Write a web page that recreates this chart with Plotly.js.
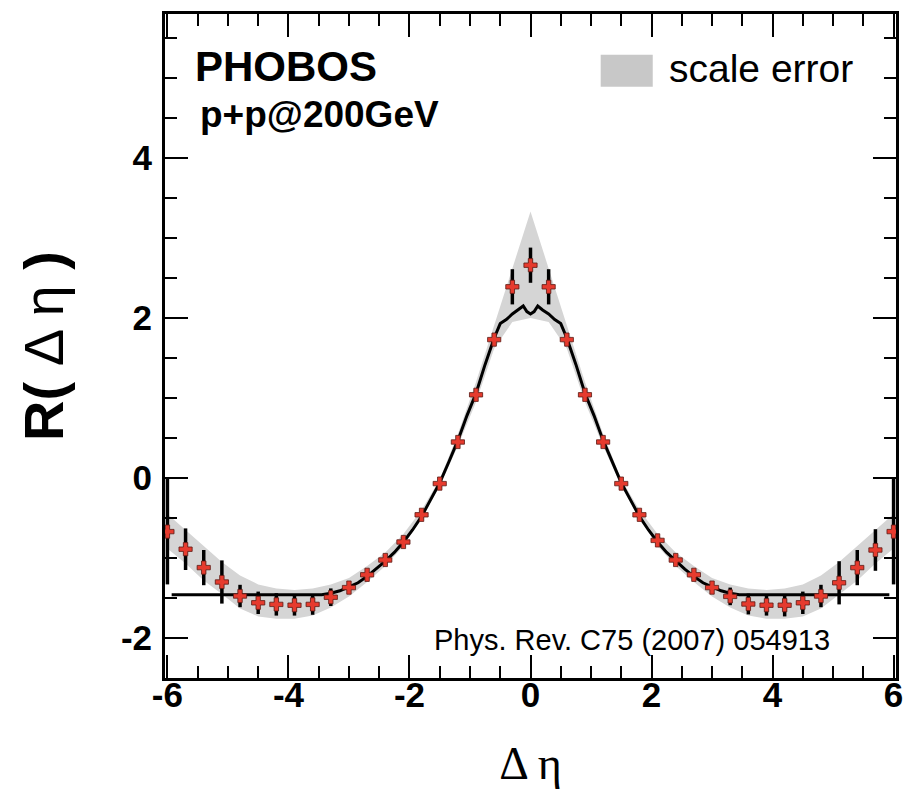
<!DOCTYPE html>
<html>
<head>
<meta charset="utf-8">
<script src="https://cdn.plot.ly/plotly-3.0.1.min.js"></script>
<style>html,body{margin:0;padding:0;background:#fff;}#chart{width:911px;height:801px;}</style>
</head>
<body>
<div id="chart"></div>
<script>
// Data points: Delta eta bin centres and R values
const dEta = [-6.0,-5.7,-5.4,-5.1,-4.8,-4.5,-4.2,-3.9,-3.6,-3.3,-3.0,-2.7,-2.4,-2.1,-1.8,-1.5,-1.2,-0.9,-0.6,-0.3,0.0,
              0.3,0.6,0.9,1.2,1.5,1.8,2.1,2.4,2.7,3.0,3.3,3.6,3.9,4.2,4.5,4.8,5.1,5.4,5.7,6.0];
const rVal = [-0.67,-0.89,-1.12,-1.30,-1.475,-1.56,-1.58,-1.59,-1.58,-1.49,-1.37,-1.21,-1.025,-0.80,-0.46,-0.07,0.45,1.04,1.73,2.39,2.66,
              2.39,1.73,1.04,0.45,-0.07,-0.46,-0.78,-1.025,-1.21,-1.37,-1.48,-1.575,-1.59,-1.59,-1.56,-1.475,-1.31,-1.12,-0.90,-0.67];
const rErr = [0.66,0.26,0.22,0.27,0.14,0.14,0.14,0.13,0.13,0.11,0.08,0.06,0.06,0.06,0.06,0.06,0.06,0.06,0.08,0.22,0.22,
              0.22,0.08,0.06,0.06,0.06,0.06,0.06,0.06,0.06,0.08,0.11,0.13,0.13,0.14,0.14,0.14,0.27,0.22,0.26,0.66];
const binHalf = [0.1,0.1,0.1,0.1,0.1,0.1,0.1,0.1,0.1,0.1,0.1,0.1,0.1,0.1,0.1,0.1,0.1,0.1,0.1,0.1,0.1,
                 0.1,0.1,0.1,0.1,0.1,0.1,0.1,0.1,0.1,0.1,0.1,0.1,0.1,0.1,0.1,0.1,0.1,0.1,0.1,0.1];
// Scale error band (upper / lower edge at each bin centre)
const bandHi = [-0.45,-0.65,-0.85,-1.05,-1.22,-1.33,-1.38,-1.40,-1.38,-1.33,-1.25,-1.10,-0.93,-0.70,-0.40,-0.02,0.55,1.20,1.91,2.62,3.33,
                2.62,1.91,1.20,0.55,-0.02,-0.40,-0.70,-0.93,-1.10,-1.25,-1.33,-1.38,-1.40,-1.38,-1.33,-1.22,-1.05,-0.85,-0.65,-0.45];
const bandLo = [-0.88,-1.07,-1.28,-1.45,-1.63,-1.73,-1.76,-1.76,-1.72,-1.62,-1.48,-1.30,-1.10,-0.85,-0.50,-0.10,0.40,0.95,1.62,1.95,2.00,
                1.95,1.62,0.95,0.40,-0.10,-0.50,-0.85,-1.10,-1.30,-1.48,-1.62,-1.72,-1.76,-1.76,-1.73,-1.63,-1.45,-1.28,-1.07,-0.88];
// Model curve (black line)
const curveX = [-5.93,-3.45,-3.3,-3.15,-3.0,-2.85,-2.7,-2.55,-2.4,-2.25,-2.1,-1.95,-1.8,-1.65,-1.5,-1.35,-1.2,-1.05,-0.9,-0.75,-0.6,-0.5,-0.4,-0.3,-0.2,-0.12,-0.06,0.0,
                0.06,0.12,0.2,0.3,0.4,0.5,0.6,0.75,0.9,1.05,1.2,1.35,1.5,1.65,1.8,1.95,2.1,2.25,2.4,2.55,2.7,2.85,3.0,3.15,3.3,3.45,5.93];
const curveY = [-1.46,-1.46,-1.44,-1.41,-1.36,-1.31,-1.23,-1.14,-1.04,-0.93,-0.80,-0.65,-0.48,-0.27,-0.06,0.20,0.47,0.78,1.06,1.42,1.75,1.93,1.98,2.05,2.10,2.15,2.08,2.05,
                2.08,2.15,2.10,2.05,1.98,1.93,1.75,1.42,1.06,0.78,0.47,0.20,-0.06,-0.27,-0.48,-0.65,-0.80,-0.93,-1.04,-1.14,-1.23,-1.31,-1.36,-1.41,-1.44,-1.46,-1.46];
const xTickVals = [-6,-4,-2,0,2,4,6];
const xTickText = ["-6","-4","-2","0","2","4","6"];
const yTickVals = [-2,0,2,4];
const yTickText = ["-2","0","2","4"];

const bandX = dEta.concat(dEta.slice().reverse());
const bandY = bandHi.concat(bandLo.slice().reverse());

const traces = [
  {x: bandX, y: bandY, type: 'scatter', mode: 'lines', fill: 'toself',
   fillcolor: 'rgb(213,213,213)', line: {width: 0}, hoverinfo: 'skip', showlegend: false},
  {x: curveX, y: curveY, type: 'scatter', mode: 'lines', line: {color: '#000', width: 3}, showlegend: false},
  {x: dEta, y: rVal, type: 'scatter', mode: 'markers',
   error_y: {type: 'data', array: rErr, visible: true, color: '#000', thickness: 3.5, width: 0},
   error_x: {type: 'data', array: binHalf, visible: true, color: '#222', thickness: 2, width: 0},
   marker: {symbol: 'cross', size: 11, color: '#e63b2e', line: {color: '#5a1a14', width: 0.8}},
   showlegend: false}
];

const axisCommon = {
  showgrid: false, zeroline: false, showline: true, linecolor: '#000', linewidth: 3,
  mirror: 'ticks', ticks: 'inside', ticklen: 23, tickwidth: 2, tickcolor: '#000',
  tickfont: {family: 'Liberation Sans, Arial, sans-serif', size: 35, color: '#000', weight: 'bold'},
  minor: {ticks: 'inside', dtick: 0.5, ticklen: 12, tickwidth: 2, tickcolor: '#000'}
};

const layout = {
  width: 911, height: 801,
  margin: {l: 165, r: 15, t: 14, b: 123},
  paper_bgcolor: '#fff', plot_bgcolor: '#fff',
  xaxis: Object.assign({}, axisCommon, {
    range: [-6.04, 6.04], tickmode: 'array', tickvals: xTickVals, ticktext: xTickText,
    ticklabelstandoff: -16,
    title: {text: 'Δ η', font: {family: 'Liberation Serif, Times New Roman, serif', size: 46, color: '#000'}, standoff: 34}
  }),
  yaxis: Object.assign({}, axisCommon, {
    range: [-2.5, 5.8], tickmode: 'array', tickvals: yTickVals, ticktext: yTickText,
    ticklabelstandoff: 3,
    title: {text: '<b>R(</b> Δ η <b>)</b>', font: {family: 'Liberation Sans, Arial, sans-serif', size: 56, color: '#000'}, standoff: 40}
  }),
  shapes: [
    {type: 'rect', xref: 'x', yref: 'y', x0: 1.16, x1: 2.02, y0: 4.89, y1: 5.29,
     fillcolor: 'rgb(200,200,200)', line: {width: 0}}
  ],
  annotations: [
    {text: '<b>PHOBOS</b>', x: -5.57, y: 5.15, xref: 'x', yref: 'y', xanchor: 'left', yanchor: 'middle', showarrow: false,
     font: {family: 'Liberation Sans, Arial, sans-serif', size: 42, color: '#000'}},
    {text: '<b>p+p@200GeV</b>', x: -5.49, y: 4.55, xref: 'x', yref: 'y', xanchor: 'left', yanchor: 'middle', showarrow: false,
     font: {family: 'Liberation Sans, Arial, sans-serif', size: 37, color: '#000'}},
    {text: 'scale error', x: 2.25, y: 5.12, xref: 'x', yref: 'y', xanchor: 'left', yanchor: 'middle', showarrow: false,
     font: {family: 'Liberation Sans, Arial, sans-serif', size: 39, color: '#000'}},
    {text: 'Phys. Rev. C75 (2007) 054913', x: -1.63, y: -2.02, xref: 'x', yref: 'y', xanchor: 'left', yanchor: 'middle', showarrow: false,
     font: {family: 'Liberation Sans, Arial, sans-serif', size: 29, color: '#000'}}
  ]
};

Plotly.newPlot('chart', traces, layout, {displayModeBar: false, staticPlot: true});
</script>
</body>
</html>
